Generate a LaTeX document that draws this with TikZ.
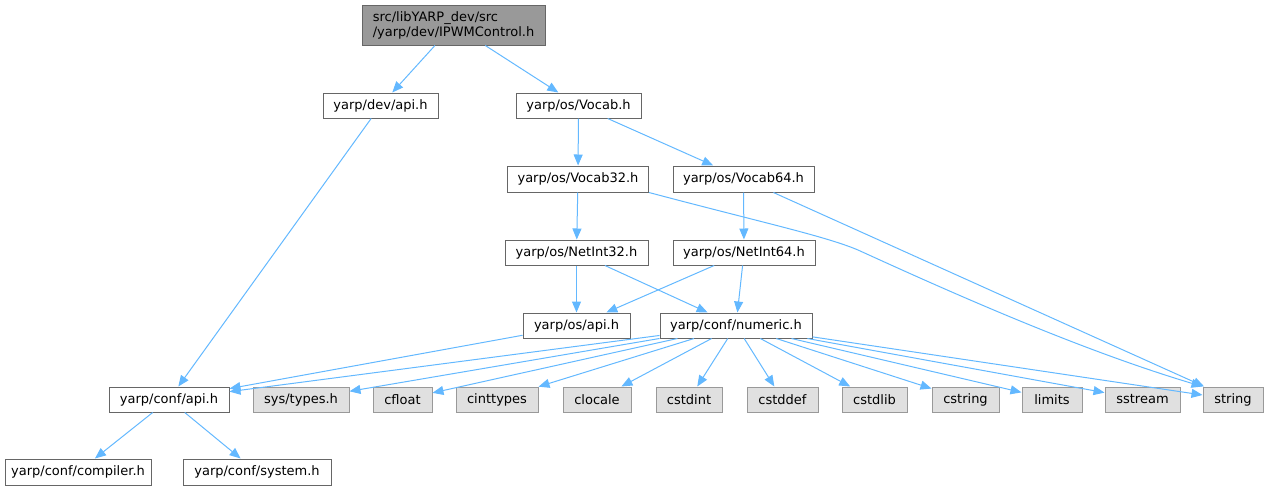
\documentclass[tikz,border=0pt]{standalone}
\usepackage{fontspec}
\setmainfont{DejaVu Sans}
\usetikzlibrary{arrows.meta}
\definecolor{edgeblue}{HTML}{63B8FF}
\definecolor{boxgray}{HTML}{666666}
\definecolor{extborder}{HTML}{999999}
\definecolor{extfill}{HTML}{E0E0E0}
\definecolor{rootfill}{HTML}{999999}
\tikzset{
  hdr/.style={draw=boxgray, fill=white, line width=1pt, inner sep=0pt, minimum height=25pt, font=\fontsize{13}{15}\selectfont},
  ext/.style={hdr, draw=extborder, fill=extfill},
  rootbox/.style={hdr, fill=rootfill, align=left},
  edge/.style={draw=edgeblue, line width=1pt, -{Triangle[length=11pt,width=9pt]}},
}
\begin{document}
\begin{tikzpicture}[x=1pt,y=-1pt]
\useasboundingbox (0,0) rectangle (1268,491);
\node[rootbox, minimum width=183pt, minimum height=40pt] (root) at (453.5,25) {src/libYARP\_dev/src\\/yarp/dev/IPWMControl.h};
\node[hdr, minimum width=115pt] (devapi) at (380.5,105.5) {yarp/dev/api.h};
\node[hdr, minimum width=125pt] (vocab) at (578.5,105.5) {yarp/os/Vocab.h};
\node[hdr, minimum width=141pt, minimum height=26pt] (v32) at (578,179) {yarp/os/Vocab32.h};
\node[hdr, minimum width=141pt, minimum height=26pt] (v64) at (743.5,179) {yarp/os/Vocab64.h};
\node[hdr, minimum width=143pt] (n32) at (576.5,252.5) {yarp/os/NetInt32.h};
\node[hdr, minimum width=142pt] (n64) at (744,252.5) {yarp/os/NetInt64.h};
\node[hdr, minimum width=107pt] (osapi) at (576.5,325.5) {yarp/os/api.h};
\node[hdr, minimum width=152pt] (numeric) at (736,325.5) {yarp/conf/numeric.h};
\node[hdr, minimum width=120pt] (confapi) at (169,399.5) {yarp/conf/api.h};
\node[ext, minimum width=96pt] (systypes) at (301,399.5) {sys/types.h};
\node[ext, minimum width=59pt] (cfloat) at (402.5,399.5) {cfloat};
\node[ext, minimum width=82pt] (cinttypes) at (497,399.5) {cinttypes};
\node[ext, minimum width=68pt] (clocale) at (597,399.5) {clocale};
\node[ext, minimum width=66pt] (cstdint) at (689,399.5) {cstdint};
\node[ext, minimum width=71pt] (cstddef) at (782.5,399.5) {cstddef};
\node[ext, minimum width=65pt] (cstdlib) at (874.5,399.5) {cstdlib};
\node[ext, minimum width=67pt] (cstring) at (965.5,399.5) {cstring};
\node[ext, minimum width=60pt] (limits) at (1052,399.5) {limits};
\node[ext, minimum width=75pt] (sstream) at (1142.5,399.5) {sstream};
\node[ext, minimum width=60pt] (string) at (1233,399.5) {string};
\node[hdr, minimum width=146pt, minimum height=26pt] (compiler) at (78,472) {yarp/conf/compiler.h};
\node[hdr, minimum width=148pt, minimum height=26pt] (system) at (257,472) {yarp/conf/system.h};

\draw[edge] (root) -- (devapi);
\draw[edge] (root) -- (vocab);
\draw[edge] (devapi) -- (confapi);
\draw[edge] (vocab) -- (v32);
\draw[edge] (vocab) -- (v64);
\draw[edge] (v32.south east) .. controls (760,222) and (825,236) .. (858,250) .. controls (950,292) and (1080,350) .. (string.north west);
\draw[edge] (v32) -- (n32);
\draw[edge] (v64) -- (n64);
\draw[edge] (v64) -- (string);
\draw[edge] (n32) -- (osapi);
\draw[edge] (n32) -- (numeric);
\draw[edge] (n64) -- (osapi);
\draw[edge] (n64) -- (numeric);
\draw[edge] (osapi) -- (confapi);
\foreach \t in {confapi,systypes,cfloat,cinttypes,clocale,cstdint,cstddef,cstdlib,cstring,limits,sstream,string}
  \draw[edge] (numeric) -- (\t);
\draw[edge] (confapi) -- (compiler);
\draw[edge] (confapi) -- (system);
\end{tikzpicture}
\end{document}
